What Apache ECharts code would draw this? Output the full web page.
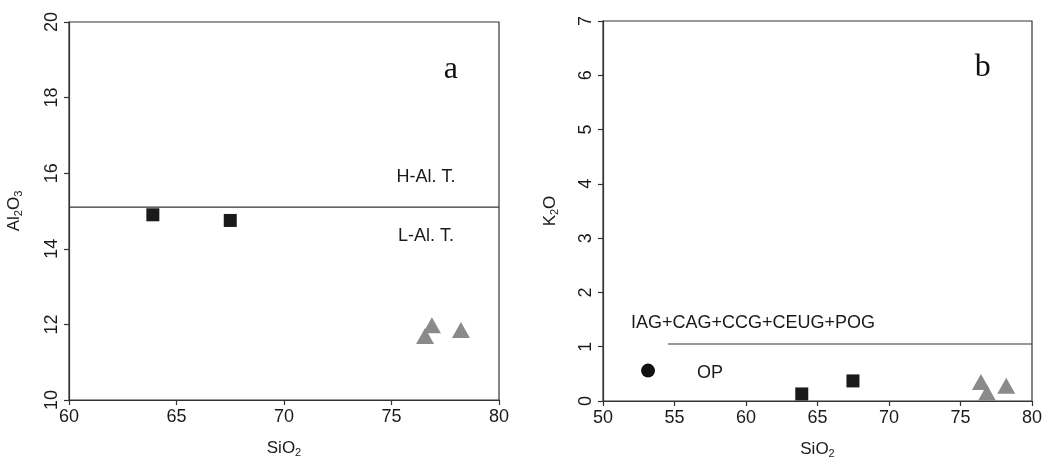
<!DOCTYPE html>
<html><head><meta charset="utf-8">
<script src="https://cdn.jsdelivr.net/npm/echarts@6/dist/echarts.min.js"></script>
<style>html,body{margin:0;padding:0;background:#fff}#c{width:1049px;height:458px}</style>
</head><body><div id="c"></div>
<script>
// Panel a: SiO2 vs Al2O3
const aSquares = [[63.9, 14.9], [67.5, 14.75]];
const aTriangles = [[76.56, 11.69], [76.88, 11.98], [78.23, 11.85]];
const aBoundary = [[60, 15.1], [80, 15.1]];
const aXTicks = [60, 65, 70, 75, 80];
const aYTicks = [10, 12, 14, 16, 18, 20];
// Panel b: SiO2 vs K2O
const bCircles = [[53.15, 0.56]];
const bSquares = [[63.9, 0.13], [67.48, 0.37]];
const bTriangles = [[76.43, 0.35], [76.85, 0.15], [78.2, 0.28]];
const bBoundary = [[54.55, 1.05], [80, 1.05]];
const bXTicks = [50, 55, 60, 65, 70, 75, 80];
const bYTicks = [0, 1, 2, 3, 4, 5, 6, 7];
// annotation texts
const aTexts = [{v: [76.6, 15.9], t: 'H-Al. T.'}, {v: [76.6, 14.34], t: 'L-Al. T.'}];
const bTexts = [{v: [60.49, 1.44], t: 'IAG+CAG+CCG+CEUG+POG'}, {v: [57.48, 0.516], t: 'OP'}];
const panelLetters = [{grid: 0, v: [77.76, 18.74], t: 'a'}, {grid: 1, v: [76.56, 6.14], t: 'b'}];

const FONT = '"Liberation Sans", Arial, sans-serif';
const axisLine = {show: true, lineStyle: {color: '#333', width: 1.2}};
const axisTick = {show: true, inside: false, length: 5, lineStyle: {color: '#333', width: 1.2}};
const xLabel = {color: '#1a1a1a', fontSize: 18, fontFamily: FONT, margin: 8};
const yLabel = {color: '#1a1a1a', fontSize: 18, fontFamily: FONT, rotate: 90, margin: 8};
const rich = {sub: {fontSize: 11, fontFamily: FONT, color: '#1a1a1a', verticalAlign: 'bottom', padding: [9, 0, 0, 0]}, n: {fontSize: 17, fontFamily: FONT, color: '#1a1a1a'}};

function textSeries(xi, items) {
  return {
    type: 'scatter', xAxisIndex: xi, yAxisIndex: xi, symbolSize: 0, silent: true,
    itemStyle: {opacity: 1},
    data: items.map(d => ({value: d.v, label: {show: true, formatter: d.t}})),
    label: {show: true, position: 'inside', color: '#1a1a1a', fontSize: 18, fontFamily: FONT}
  };
}

const option = {
  animation: false,
  backgroundColor: '#fff',
  grid: [
    {left: 69, right: 550, top: 22, bottom: 58, show: true, borderColor: '#333', borderWidth: 1.2, outerBoundsMode: 'none', containLabel: false},
    {left: 603, right: 17, top: 21, bottom: 57, show: true, borderColor: '#333', borderWidth: 1.2, outerBoundsMode: 'none', containLabel: false}
  ],
  xAxis: [
    {gridIndex: 0, type: 'value', min: 60, max: 80, interval: 5, axisLine, axisTick, axisLabel: xLabel, splitLine: {show: false},
     name: '{n|SiO}{sub|2}', nameLocation: 'middle', nameGap: 38, nameTextStyle: {rich}},
    {gridIndex: 1, type: 'value', min: 50, max: 80, interval: 5, axisLine, axisTick, axisLabel: xLabel, splitLine: {show: false},
     name: '{n|SiO}{sub|2}', nameLocation: 'middle', nameGap: 38, nameTextStyle: {rich}}
  ],
  yAxis: [
    {gridIndex: 0, type: 'value', min: 10, max: 20, interval: 2, axisLine, axisTick, axisLabel: yLabel, splitLine: {show: false},
     name: '{n|Al}{sub|2}{n|O}{sub|3}', nameLocation: 'middle', nameRotate: 90, nameGap: 45, nameTextStyle: {rich}},
    {gridIndex: 1, type: 'value', min: 0, max: 7, interval: 1, axisLine, axisTick, axisLabel: yLabel, splitLine: {show: false},
     name: '{n|K}{sub|2}{n|O}', nameLocation: 'middle', nameRotate: 90, nameGap: 43, nameTextStyle: {rich}}
  ],
  series: [
    {type: 'line', xAxisIndex: 0, yAxisIndex: 0, data: aBoundary, symbol: 'none', lineStyle: {color: '#333', width: 1.2}},
    {type: 'scatter', xAxisIndex: 0, yAxisIndex: 0, data: aSquares, symbol: 'rect', symbolSize: 13, itemStyle: {color: '#1a1a1a', opacity: 1}},
    {type: 'scatter', xAxisIndex: 0, yAxisIndex: 0, data: aTriangles, symbol: 'triangle', symbolSize: [18, 16], itemStyle: {color: '#8a8a8a', opacity: 1}},
    {type: 'line', xAxisIndex: 1, yAxisIndex: 1, data: bBoundary, symbol: 'none', lineStyle: {color: '#333', width: 1.2}},
    {type: 'scatter', xAxisIndex: 1, yAxisIndex: 1, data: bCircles, symbol: 'circle', symbolSize: 14, itemStyle: {color: '#111', opacity: 1}},
    {type: 'scatter', xAxisIndex: 1, yAxisIndex: 1, data: bSquares, symbol: 'rect', symbolSize: 13, itemStyle: {color: '#1a1a1a', opacity: 1}},
    {type: 'scatter', xAxisIndex: 1, yAxisIndex: 1, data: bTriangles, symbol: 'triangle', symbolSize: [18, 16], itemStyle: {color: '#8a8a8a', opacity: 1}},
    textSeries(0, aTexts),
    textSeries(1, bTexts),
    ...panelLetters.map(p => ({
      type: 'scatter', xAxisIndex: p.grid, yAxisIndex: p.grid, symbolSize: 0, silent: true,
      itemStyle: {opacity: 1},
      data: [{value: p.v}],
      label: {show: true, position: 'inside', formatter: p.t, color: '#111', fontSize: 32, fontFamily: '"Liberation Serif", "Times New Roman", serif'}
    }))
  ]
};
const chart = echarts.init(document.getElementById('c'), null, {renderer: 'canvas'});
chart.setOption(option);
</script>
</body></html>
